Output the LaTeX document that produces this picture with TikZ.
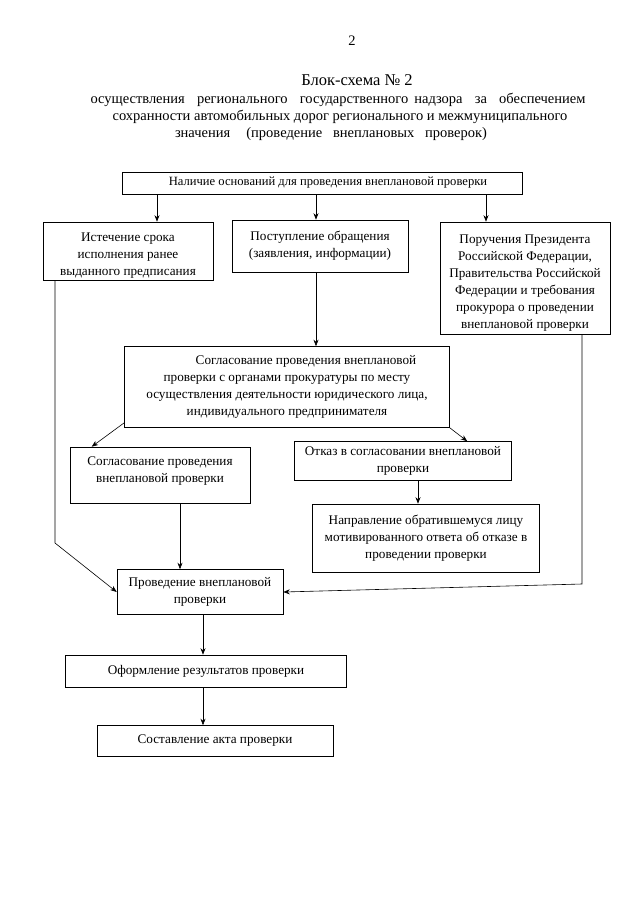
\documentclass[tikz,border=0pt]{standalone}
\usepackage{fontspec}
\setmainfont{Liberation Serif}
\usetikzlibrary{arrows.meta}
\begin{document}
\begin{tikzpicture}[x=1pt,y=-1pt,
  box/.style={draw, line width=0.6pt, align=center, inner sep=2pt,
    font=\fontsize{13.2}{17}\selectfont},
  ttl/.style={font=\fontsize{14.5}{17}\selectfont, inner sep=0pt},
  arr/.style={line width=0.6pt, -{Stealth[length=6.5pt,width=5pt]}},
  ln/.style={line width=0.6pt}]
\fill[white] (0,0) rectangle (640,905);
\useasboundingbox (0,0) rectangle (640,905);
% title
\node[ttl] (pg) at (352,41) {2};
\node[ttl, font=\fontsize{16.5}{17}\selectfont] (t1) at (357,80) {Блок-схема № 2};
\node[ttl] (t2) at (338,100) {\makebox[495pt][s]{осуществления\ \ регионального\ \ государственного надзора\ \ за\ \ обеспечением}};
\node[ttl] (t3) at (340,117) {сохранности автомобильных дорог регионального и межмуниципального};
\node[ttl] (t4) at (331,134) {\makebox[312pt][s]{значения\ \ \ (проведение\ \ внеплановых\ \ проверок)}};
% boxes
\node[box, minimum width=400, minimum height=22, font=\fontsize{12.6}{17}\selectfont] (T) at (322,183) {\hspace*{12pt}Наличие оснований для проведения внеплановой проверки};
\node[box, minimum width=170, minimum height=58] (A) at (128,251) {\rule{0pt}{17pt}Истечение срока\\исполнения ранее\\выданного предписания};
\node[box, minimum width=176, minimum height=52] (B) at (320,246) {Поступление обращения\\(заявления, информации)};
\node[box, minimum width=170, minimum height=112] (C) at (525,278) {\rule{0pt}{19pt}Поручения Президента\\Российской Федерации,\\Правительства Российской\\Федерации и требования\\прокурора о проведении\\внеплановой проверки};
\node[box, minimum width=325, minimum height=81] (D) at (287,387) {\hspace*{38pt}Согласование проведения внеплановой\\проверки с органами прокуратуры по месту\\осуществления деятельности юридического лица,\\индивидуального предпринимателя};
\node[box, minimum width=180, minimum height=56] (E) at (160,475) {Согласование проведения\\внеплановой проверки\\[-7pt]\mbox{}};
\node[box, minimum width=217, minimum height=39] (F) at (403,461) {Отказ в согласовании внеплановой\\проверки};
\node[box, minimum width=227, minimum height=68] (G) at (426,538) {Направление обратившемуся лицу\\мотивированного ответа об отказе в\\проведении проверки};
\node[box, minimum width=166, minimum height=45] (H) at (200,592) {Проведение внеплановой\\проверки};
\node[box, minimum width=281, minimum height=32] (I) at (206,671) {Оформление результатов проверки};
\node[box, minimum width=236, minimum height=31] (J) at (215,741) {Составление акта проверки};
% helper coordinates
\coordinate (xa) at (157,0);
\coordinate (xb) at (316,0);
\coordinate (xc) at (486,0);
\coordinate (xe) at (180,0);
\coordinate (xf) at (418,0);
\coordinate (xh) at (203,0);
\coordinate (xl) at (55,0);
\coordinate (lb) at (55,543);
\coordinate (xr) at (582,0);
\coordinate (rb) at (582,584);
% connectors
\draw[arr] (T.south -| xa) -- (A.north -| xa);
\draw[arr] (T.south -| xb) -- (B.north -| xb);
\draw[arr] (T.south -| xc) -- (C.north -| xc);
\draw[arr] (B.south -| xb) -- (D.north -| xb);
\draw[arr] ([yshift=5pt]D.south west) -- ([xshift=22pt]E.north west);
\draw[arr] (D.south east) -- ([xshift=173pt]F.north west);
\draw[arr] (E.south -| xe) -- (H.north -| xe);
\draw[arr] (F.south -| xf) -- (G.north -| xf);
\draw[arr] (A.south -| xl) -- (lb) -- (H.west);
\draw[arr] (C.south -| xr) -- (rb) -- (H.east);
\draw[arr] (H.south -| xh) -- (I.north -| xh);
\draw[arr] (I.south -| xh) -- (J.north -| xh);
\end{tikzpicture}
\end{document}
